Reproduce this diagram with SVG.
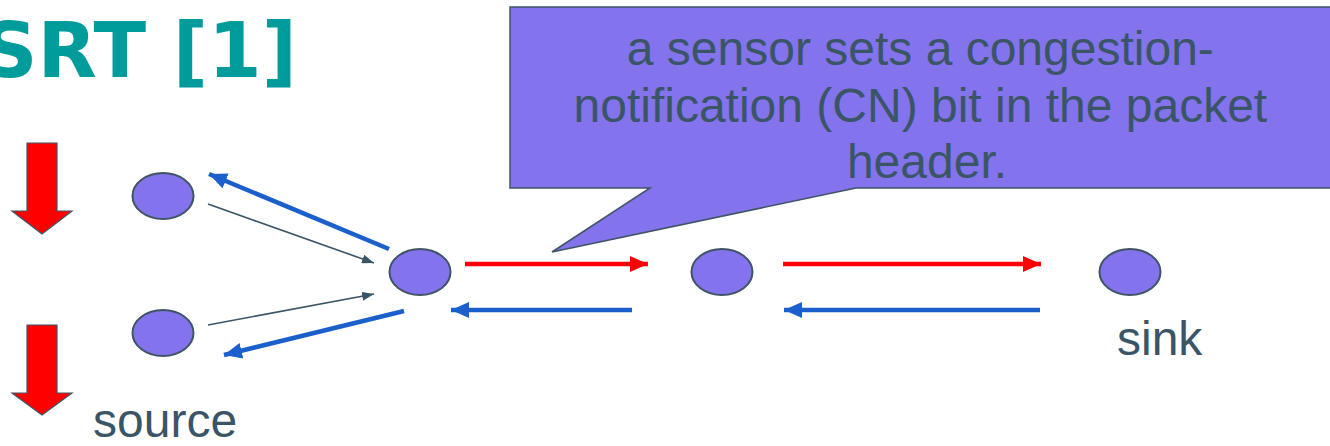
<svg xmlns="http://www.w3.org/2000/svg" width="1330" height="446" viewBox="0 0 1330 446">
  <style>
    .node { fill: #8373EC; stroke: #3F5566; stroke-width: 2; }
    .thin { stroke: #3A5566; stroke-width: 1.6; fill: none; }
    .blue { stroke: #1A5FCC; stroke-width: 4.5; fill: none; }
    .red { stroke: #FF0000; stroke-width: 4.5; fill: none; }
    .label { font-family: "Liberation Sans", Arial, sans-serif; font-size: 48px; fill: #3A5566; }
    .title { font-family: "DejaVu Sans", Verdana, sans-serif; font-weight: bold; font-size: 76px; fill: #009B9B; }
    .bigarrow { fill: #FF0000; stroke: #3F5566; stroke-width: 1.2; }
  </style>
  <defs>
    <marker id="head-thin" viewBox="0 0 10 10" refX="10" refY="5" markerWidth="12" markerHeight="9" markerUnits="userSpaceOnUse" orient="auto" preserveAspectRatio="none">
      <path d="M0,0 L10,5 L0,10 z" fill="#3A5566"/>
    </marker>
    <marker id="head-blue" viewBox="0 0 10 10" refX="10" refY="5" markerWidth="18" markerHeight="16" markerUnits="userSpaceOnUse" orient="auto" preserveAspectRatio="none">
      <path d="M0,0 L10,5 L0,10 z" fill="#1A5FCC"/>
    </marker>
    <marker id="head-red" viewBox="0 0 10 10" refX="10" refY="5" markerWidth="18" markerHeight="16" markerUnits="userSpaceOnUse" orient="auto" preserveAspectRatio="none">
      <path d="M0,0 L10,5 L0,10 z" fill="#FF0000"/>
    </marker>
  </defs>

  <!-- heading -->
  <text class="title" x="-18" y="77" textLength="315" lengthAdjust="spacingAndGlyphs">SRT [1]</text>

  <!-- rate-reduction arrows -->
  <g id="down-arrow-1">
    <polygon class="bigarrow" points="27,143 57,143 57,211 72,211 42,234 12,211 27,211"/>
  </g>
  <g id="down-arrow-2">
    <polygon class="bigarrow" points="27,325 57,325 57,393 72,393 42,415 12,393 27,393"/>
  </g>

  <!-- connectors -->
  <g id="connectors">
    <line class="thin" x1="208" y1="204" x2="374" y2="263" marker-end="url(#head-thin)"/>
    <line class="thin" x1="208" y1="325" x2="374" y2="294" marker-end="url(#head-thin)"/>
    <line class="blue" x1="389" y1="249" x2="209" y2="174" marker-end="url(#head-blue)"/>
    <line class="blue" x1="404" y1="311" x2="224" y2="355" marker-end="url(#head-blue)"/>
    <line class="red" x1="465" y1="264" x2="648" y2="264" marker-end="url(#head-red)"/>
    <line class="blue" x1="632" y1="310" x2="451" y2="310" marker-end="url(#head-blue)"/>
    <line class="red" x1="783" y1="264" x2="1041" y2="264" marker-end="url(#head-red)"/>
    <line class="blue" x1="1040" y1="310" x2="784" y2="310" marker-end="url(#head-blue)"/>
  </g>

  <!-- sensor nodes -->
  <g id="node-src-1"><ellipse class="node" cx="163" cy="196" rx="30.5" ry="23"/></g>
  <g id="node-src-2"><ellipse class="node" cx="163" cy="333" rx="30.5" ry="23"/></g>
  <g id="node-relay-1"><ellipse class="node" cx="420" cy="272" rx="30.5" ry="23"/></g>
  <g id="node-relay-2"><ellipse class="node" cx="722" cy="272" rx="30.5" ry="23"/></g>
  <g id="node-sink"><ellipse class="node" cx="1130" cy="272" rx="30.5" ry="23"/></g>

  <text class="label" x="93" y="437" font-size="47">source</text>
  <text class="label" x="1117" y="355">sink</text>

  <!-- callout -->
  <g id="callout">
    <path d="M510,7 L1344,7 L1344,188 L856,188 L552,252 L650,188 L510,188 Z" fill="#8373EC" stroke="#3F5566" stroke-width="1.5" stroke-linejoin="miter"/>
    <text class="label" text-anchor="middle">
      <tspan x="927" y="65">a sensor sets a congestion-</tspan>
      <tspan x="927" y="122">notification (CN) bit in the packet</tspan>
      <tspan x="927" y="178">header.</tspan>
    </text>
  </g>
</svg>
